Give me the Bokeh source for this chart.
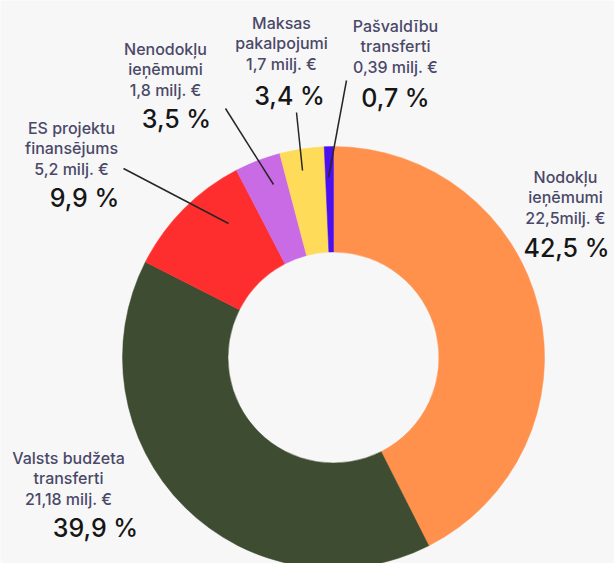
import math
from bokeh.plotting import figure
from bokeh.models import ColumnDataSource, Range1d
from bokeh.core.properties import value
from bokeh.embed import file_html
from bokeh.resources import INLINE

# ---- data ----
categories = [
    ["Nodokļu", "ieņēmumi"],
    ["Valsts budžeta", "transferti"],
    ["ES projektu", "finansējums"],
    ["Nenodokļu", "ieņēmumi"],
    ["Maksas", "pakalpojumi"],
    ["Pašvaldību", "transferti"],
]
amount_labels = ["22,5milj. €", "21,18 milj. €", "5,2 milj. €", "1,8 milj. €", "1,7 milj. €", "0,39 milj. €"]
percents = [42.5, 39.9, 9.9, 3.5, 3.4, 0.7]
colors = ["#FF914D", "#3E4C31", "#FF2E2E", "#C86BE5", "#FFDB5A", "#4B0FF0"]

# ---- layout (reference pixel coordinates) ----
W, H = 614, 563
cx, cy = 333, 357
r_outer, r_inner = 211, 105.5

# label block centre x, first line y, percent centre x, percent y
label_pos = [
    (565, 176, 566, 247),
    (68, 457, 95, 527),
    (71, 127, 84, 197),
    (165, 48, 176, 118),
    (281, 22, 289, 95),
    (395, 25, 395, 97),
]
line_step = 20.5
leaders = [
    None,
    None,
    ((123, 168), (228, 223)),
    ((225, 108), (273, 184)),
    ((296, 112), (302, 170)),
    ((346, 80), (328, 177)),
]

def Y(y):
    return H - y

p = figure(width=W, height=H, output_backend="svg", toolbar_location=None,
           x_range=Range1d(0, W), y_range=Range1d(0, H),
           min_border=0)
p.axis.visible = False
p.grid.visible = False
p.outline_line_color = None
p.background_fill_color = "#F8F7F8"
p.border_fill_color = "#F8F7F8"

total = sum(percents)
starts, ends = [], []
cum = 0.0
for v in percents:
    starts.append(math.pi / 2 - 2 * math.pi * cum / total)
    cum += v
    ends.append(math.pi / 2 - 2 * math.pi * cum / total)

src = ColumnDataSource(dict(x=[cx] * len(percents), y=[Y(cy)] * len(percents),
                            start=starts, end=ends, color=colors))
p.annular_wedge(x="x", y="y", inner_radius=r_inner, outer_radius=r_outer,
                start_angle="start", end_angle="end", direction="clock",
                fill_color="color", line_color="color", line_width=0.5, source=src)

# leader lines
x0s, y0s, x1s, y1s = [], [], [], []
for ld in leaders:
    if ld is None:
        continue
    (a, b), (c, d) = ld
    x0s.append(a); y0s.append(Y(b)); x1s.append(c); y1s.append(Y(d))
p.segment(x0=x0s, y0=y0s, x1=x1s, y1=y1s, line_color="#262626", line_width=1.5)

# category texts
tx, ty, tt = [], [], []
for name_lines, amt, (lx, ly, px, py) in zip(categories, amount_labels, label_pos):
    lines = list(name_lines) + [amt]
    for i, s in enumerate(lines):
        tx.append(lx); ty.append(Y(ly + i * line_step)); tt.append(s)
p.text(x=tx, y=ty, text=tt, text_align="center", text_baseline="middle",
       text_font=value("Inter Medium"), text_font_size="16px", text_color="#4A4968")

# percentage texts
pct_text = [f"{v:.1f}".replace(".", ",") + " %" for v in percents]
p.text(x=[lp[2] for lp in label_pos], y=[Y(lp[3]) for lp in label_pos], text=pct_text,
       text_align="center", text_baseline="middle",
       text_font=value("Inter Medium"), text_font_size="25px", text_color="#161616")

open("out.html", "w").write(file_html(p, INLINE))
